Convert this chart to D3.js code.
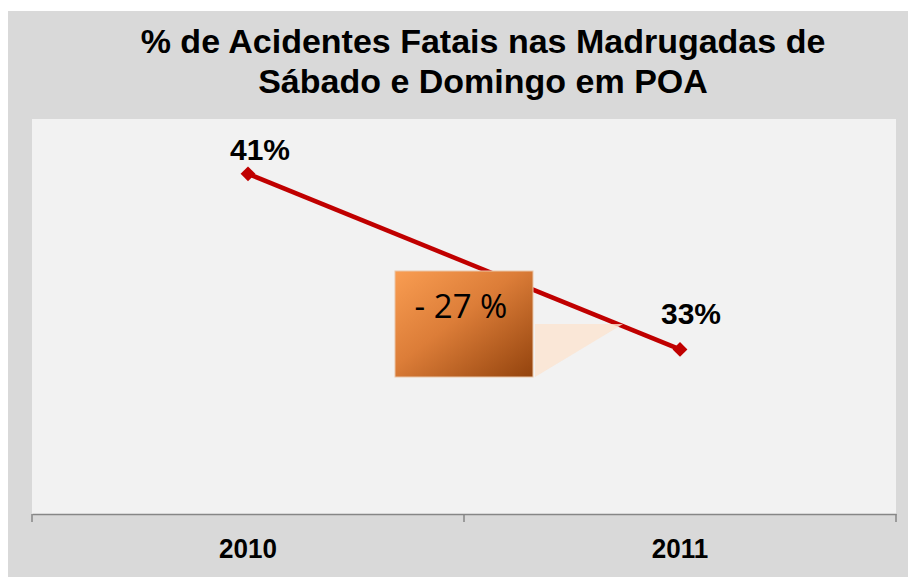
<!DOCTYPE html>
<html>
<head>
<meta charset="utf-8">
<script src="https://cdn.jsdelivr.net/npm/d3@7"></script>
<style>
  body { margin: 0; background: #fff; }
  text { font-family: "Liberation Sans", Arial, sans-serif; }
</style>
</head>
<body>
<svg id="chart"></svg>
<script>
// chart data
const years = ["2010", "2011"];
const percents = [41, 33];
const pointLabels = ["41%", "33%"];
const titleLines = ["% de Acidentes Fatais nas Madrugadas de", "Sábado e Domingo em POA"];
const changeLabel = "- 27 %";

const W = 908, H = 577;
const plot = {left: 32, right: 896, top: 119, bottom: 514};

const svg = d3.select("#chart")
    .attr("width", W)
    .attr("height", H);

// outer frame + plot area
svg.append("rect")
    .attr("x", 8).attr("y", 11)
    .attr("width", W - 8).attr("height", H - 11)
    .attr("fill", "#d9d9d9");
svg.append("rect")
    .attr("x", plot.left).attr("y", plot.top)
    .attr("width", plot.right - plot.left).attr("height", plot.bottom - plot.top)
    .attr("fill", "#f2f2f2");

// title
svg.append("text")
    .attr("x", 483).attr("y", 53)
    .attr("text-anchor", "middle")
    .style("font-size", "34px").style("font-weight", "bold")
    .selectAll("tspan")
    .data(titleLines)
    .join("tspan")
      .attr("x", 483)
      .attr("dy", (d, i) => i === 0 ? 0 : 40)
      .text(d => d);

// scales
const x = d3.scaleBand()
    .domain(years)
    .range([plot.left, plot.right]);
const y = d3.scaleLinear()
    .domain([25.5, 43.5])
    .range([plot.bottom, plot.top]);

// x axis
const xAxis = svg.append("g")
    .attr("transform", `translate(0,${plot.bottom})`)
    .call(d3.axisBottom(x).tickSize(0).tickFormat(""));
xAxis.select(".domain").attr("stroke", "#868686").attr("stroke-width", 1.5);

// category boundary ticks
const bounds = [plot.left, ...years.map(d => x(d) + x.bandwidth())];
svg.append("g")
  .selectAll("line")
  .data(bounds)
  .join("line")
    .attr("x1", d => d).attr("x2", d => d)
    .attr("y1", plot.bottom).attr("y2", plot.bottom + 8)
    .attr("stroke", "#868686").attr("stroke-width", 1.5);

// category labels
svg.append("g")
  .selectAll("text")
  .data(years)
  .join("text")
    .attr("transform", d => `translate(${x(d) + x.bandwidth() / 2},558) scale(0.93,1)`)
    .attr("text-anchor", "middle")
    .style("font-size", "28px").style("font-weight", "bold")
    .text(d => d);

const pts = years.map((d, i) => ({year: d, v: percents[i], label: pointLabels[i]}));
const cx = d => x(d.year) + x.bandwidth() / 2;

// line
svg.append("path")
    .datum(pts)
    .attr("fill", "none")
    .attr("stroke", "#c00000")
    .attr("stroke-width", 4.5)
    .attr("d", d3.line().x(cx).y(d => y(d.v)));

// markers
svg.append("g")
  .selectAll("path")
  .data(pts)
  .join("path")
    .attr("transform", d => `translate(${cx(d)},${y(d.v)})`)
    .attr("d", d3.symbol(d3.symbolDiamond2, 140))
    .attr("fill", "#c00000");

// point labels
const labelOffset = [[12, -14], [11, -25]];
svg.append("g")
  .selectAll("text")
  .data(pts)
  .join("text")
    .attr("x", (d, i) => cx(d) + labelOffset[i][0])
    .attr("y", (d, i) => y(d.v) + labelOffset[i][1])
    .attr("text-anchor", "middle")
    .style("font-size", "30px").style("font-weight", "bold")
    .text(d => d.label);

// callout
const defs = svg.append("defs");
const grad = defs.append("linearGradient")
    .attr("id", "callGrad")
    .attr("x1", "0%").attr("y1", "0%").attr("x2", "100%").attr("y2", "100%");
grad.append("stop").attr("offset", "0%").attr("stop-color", "#f99d52");
grad.append("stop").attr("offset", "45%").attr("stop-color", "#dc7d38");
grad.append("stop").attr("offset", "100%").attr("stop-color", "#93430d");

svg.append("rect")
    .attr("x", 395).attr("y", 271)
    .attr("width", 138).attr("height", 106)
    .attr("fill", "url(#callGrad)")
    .attr("stroke", "#e9c6a8").attr("stroke-width", 1);

svg.append("path")
    .attr("d", "M535,324 L623,324 L535,377 Z")
    .attr("fill", "#fbe3d0")
    .attr("opacity", 0.8);

svg.append("text")
    .attr("x", 461).attr("y", 318)
    .attr("text-anchor", "middle")
    .style("font-family", "'Open Sans', 'Noto Sans', sans-serif")
    .style("font-size", "33px")
    .attr("fill", "#000")
    .text(changeLabel);
</script>
</body>
</html>
